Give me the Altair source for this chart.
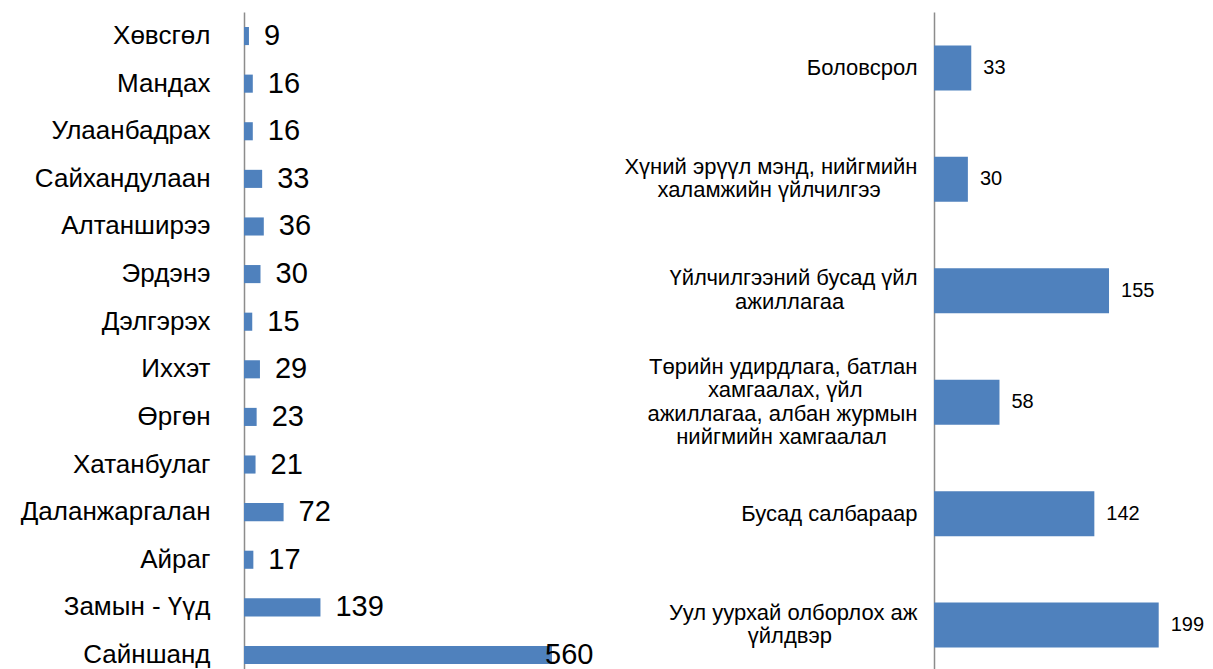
import altair as alt
import pandas as pd

# ---- data -------------------------------------------------------------
left_cats = ["Хөвсгөл", "Мандах", "Улаанбадрах", "Сайхандулаан", "Алтанширээ",
             "Эрдэнэ", "Дэлгэрэх", "Иххэт", "Өргөн", "Хатанбулаг",
             "Даланжаргалан", "Айраг", "Замын - Үүд", "Сайншанд"]
left_vals = [9, 16, 16, 33, 36, 30, 15, 29, 23, 21, 72, 17, 139, 560]

right_lines = [
    ["Боловсрол"],
    ["Хүний эрүүл мэнд, нийгмийн", "халамжийн үйлчилгээ"],
    ["Үйлчилгээний бусад үйл", "ажиллагаа"],
    ["Төрийн удирдлага, батлан", "хамгаалах, үйл", "ажиллагаа, албан журмын", "нийгмийн хамгаалал"],
    ["Бусад салбараар"],
    ["Уул уурхай олборлох аж", "үйлдвэр"],
]
right_vals = [33, 30, 155, 58, 142, 199]

BLUE = "#4F81BD"
AXIS_GRAY = "#8C8C8C"
FONT = "Liberation Sans"
LH = 23.5  # line height of the right-hand labels


# centre each line of a multi-line label under the longest line
def _cw(ch):
    if ch in " ,.\u00a0":
        return 0.278
    if ch in "шщжмыюШЩЖМЫЮ":
        return 0.74
    if ch in "гГ":
        return 0.38
    if ch.isupper():
        return 0.68
    return 0.55


def _w(s):
    return sum(_cw(c) for c in s)


def centre_block(lines):
    if len(lines) == 1:
        return lines[0]
    mx = max(_w(l) for l in lines)
    out = []
    for l in lines:
        n = int(round((mx - _w(l)) / 2 / 0.278))
        out.append(l + "\u00a0" * n + "\u200b" if n > 0 else l)
    return "|".join(out)


right_labels = [centre_block(l) for l in right_lines]

left_df = pd.DataFrame({"cat": left_cats, "val": left_vals})
right_df = pd.DataFrame({"cat": right_labels, "val": right_vals})

# ---- left panel -------------------------------------------------------
ly = alt.Y("cat:N", sort=left_cats, title=None,
           scale=alt.Scale(paddingInner=0.62, paddingOuter=0.315),
           axis=alt.Axis(domain=True, domainColor=AXIS_GRAY, domainWidth=1.5,
                         ticks=False, grid=False, labelFont=FONT, labelFontSize=26,
                         labelColor="#000000", labelPadding=34, labelLimit=400,
                         minExtent=236, maxExtent=236))
lx = alt.X("val:Q", title=None, axis=None, scale=alt.Scale(domain=[0, 600]))

left_bars = alt.Chart(left_df).mark_bar(color=BLUE).encode(y=ly, x=lx)
left_text = alt.Chart(left_df).transform_calculate(
    lpos="min(datum.val, 520)"
).mark_text(align="left", baseline="middle", dx=15, font=FONT,
            fontSize=29, color="#000000").encode(
    y=alt.Y("cat:N", sort=left_cats),
    x=alt.X("lpos:Q", scale=alt.Scale(domain=[0, 600])),
    text=alt.Text("val:Q"),
)
left = alt.layer(left_bars, left_text).properties(width=330, height=667)

# ---- right panel ------------------------------------------------------
nlines = "length(split(datum.label, '|'))"
ry = alt.Y("cat:N", sort=right_labels, title=None,
           scale=alt.Scale(paddingInner=0.596, paddingOuter=0.30),
           axis=alt.Axis(domain=True, domainColor=AXIS_GRAY, domainWidth=1.5,
                         ticks=False, grid=False, labelFont=FONT, labelFontSize=22,
                         labelColor="#000000", labelPadding=17, labelLimit=500,
                         labelLineHeight=LH, labelOffset=-LH,
                         labelBaseline={
                             "condition": [
                                 {"test": nlines + " == 2", "value": "line-top"},
                                 {"test": nlines + " >= 3", "value": "line-bottom"},
                             ],
                             "value": "middle",
                         },
                         labelExpr="indexof(datum.label, '|') < 0 ? ['', datum.label] : split(datum.label, '|')"))
rx = alt.X("val:Q", title=None, axis=None, scale=alt.Scale(domain=[0, 240]))

right_bars = alt.Chart(right_df).mark_bar(color=BLUE).encode(y=ry, x=rx)
right_text = alt.Chart(right_df).mark_text(
    align="left", baseline="middle", dx=12,
    font=FONT, fontSize=20, color="#000000"
).encode(
    y=alt.Y("cat:N", sort=right_labels),
    x=alt.X("val:Q", scale=alt.Scale(domain=[0, 240])),
    text=alt.Text("val:Q"),
)
right = alt.layer(right_bars, right_text).properties(width=271, height=669)

chart = alt.hconcat(left, right, spacing=360, bounds="flush").properties(
    padding={"left": 0, "top": 4, "right": 0, "bottom": 0}
).configure_view(stroke=None)

chart.save("out.html", embed_options={"renderer": "svg", "actions": False})
